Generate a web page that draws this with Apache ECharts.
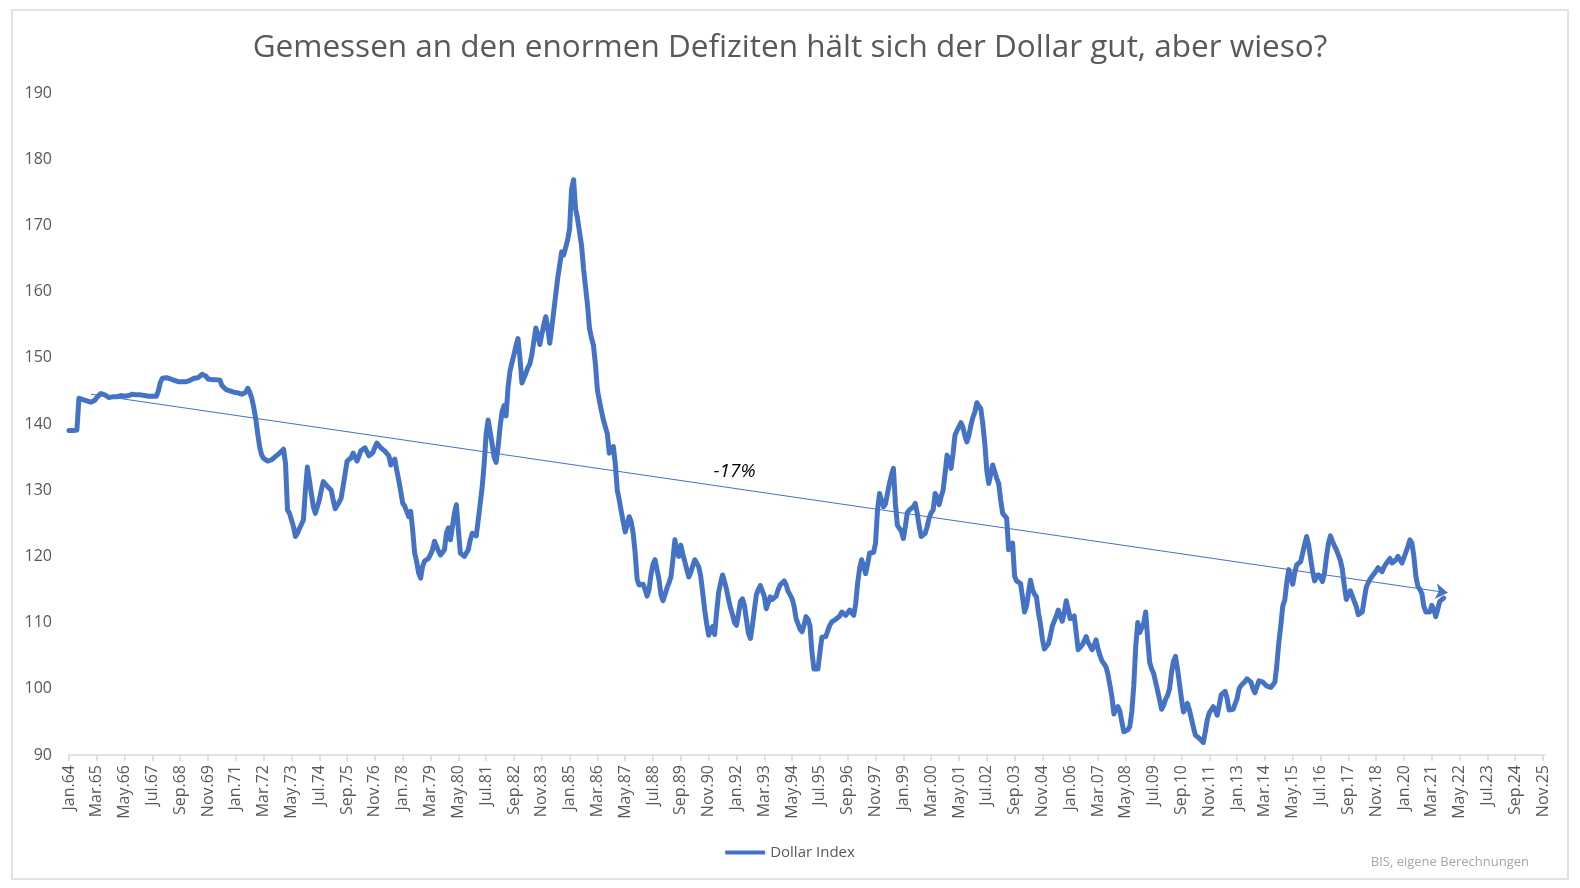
<!DOCTYPE html>
<html>
<head>
<meta charset="utf-8">
<script src="https://cdn.jsdelivr.net/npm/echarts@6/dist/echarts.min.js"></script>
<style>
  html, body { margin: 0; padding: 0; background: #fff; }
  #chart { width: 1580px; height: 888px; }
</style>
</head>
<body>
<div id="chart"></div>
<script>
// Monatswerte Dollar Index (BIS), Jan.64 - Sep.21
const dollar1960s = [
  139, 139, 139, 139, 139.1, 143.9, 143.8, 143.7, 143.6, 143.5, 143.4, 143.3,
  143.3, 143.6, 144.0, 144.3, 144.6, 144.6, 144.4, 144.2, 144.0, 144.0, 144.1, 144.0,
  144.1, 144.2, 144.3, 144.3, 144.2, 144.2, 144.3, 144.4, 144.5, 144.4, 144.4, 144.4,
  144.4, 144.3, 144.3, 144.2, 144.2, 144.2, 144.2, 144.2, 144.2, 145.0, 146.3, 146.9,
  146.9, 147.0, 146.9, 146.8, 146.7, 146.6, 146.5, 146.4, 146.4, 146.4, 146.4, 146.4,
  146.5, 146.6, 146.8, 146.9, 146.9, 147.0, 147.2, 147.5, 147.7, 147.2, 146.8, 146.8
];
const dollar1970s = [
  146.7, 146.7, 146.7, 146.6, 146.6, 145.8, 145.5, 145.2, 145.0, 145.0, 144.9, 144.8,
  144.8, 144.7, 144.6, 144.5, 144.4, 144.8, 145.4, 144.8, 143.9, 142.5, 140.8, 138.5,
  136.5, 135.3, 134.8, 134.5, 134.4, 134.3, 134.6, 134.9, 135.1, 135.3, 135.6, 135.9,
  136.2, 134.0, 127.0, 126.5, 126.6, 124.5, 123.0, 123.5, 124.2, 124.2, 125.5, 130.0,
  133.5, 131.5, 129.5, 127.5, 126.5, 127.5, 128.5, 130.0, 131.3, 131.0, 130.6, 130.3,
  130.0, 128.5, 127.2, 126.9, 128.2, 128.8, 129.0, 132.5, 134.4, 134.6, 134.9, 135.6,
  135.0, 134.4, 135.2, 136.0, 136.2, 136.4, 135.8, 135.2, 134.9, 135.7, 136.5, 137.1,
  136.8, 136.4, 136.1, 135.9, 135.7, 135.2, 133.8, 134.3, 134.7, 133.0, 131.5, 129.8,
  128.0, 127.6, 127.3, 126.0, 126.8, 124.0, 120.5, 119.2, 117.5, 116.7, 118.5, 119.3,
  119.5, 119.7, 120.3, 121.0, 122.3, 122.5, 120.8, 120.2, 120.6, 121.0, 123.5, 124.3
];
const dollar1980s = [
  122.5, 124.5, 126.5, 127.8, 124.0, 120.5, 120.2, 120.0, 120.3, 121.0, 122.5, 123.5,
  123.3, 123.1, 125.5, 128.0, 130.5, 134.0, 138.5, 140.6, 138.8, 137.0, 135.0, 134.2,
  136.5, 139.6, 141.8, 142.8, 141.2, 145.5, 148.0, 149.3, 150.5, 151.8, 152.9, 150.0,
  146.2, 146.5, 147.7, 148.5, 149.1, 150.5, 152.5, 154.5, 153.5, 152.0, 153.5, 155.0,
  156.2, 154.5, 152.2, 154.5, 157.0, 159.5, 162.0, 164.0, 166.0, 165.5, 165.3, 167.8,
  169.5, 175.5, 176.9, 172.5, 171.0, 170.8, 167.0, 163.5, 163.4, 158.0, 154.5, 153.0,
  151.9, 149.0, 145.1, 143.5, 142.0, 140.6, 140.4, 138.5, 135.6, 135.8, 136.6, 134.0,
  130.0, 128.5, 126.8, 125.2, 123.7, 124.8, 126.0, 125.2, 123.5, 120.5, 116.5, 115.7,
  115.8, 115.8, 115.0, 114.0, 115.0, 117.3, 118.8, 119.5, 119.6, 116.5, 114.2, 113.3,
  114.2, 115.2, 116.0, 116.9, 119.5, 122.5, 120.5, 120.0, 121.7, 120.3, 119.2, 118.0
];
const dollar1990s = [
  116.9, 117.6, 118.6, 119.5, 119.0, 118.4, 117.0, 114.5, 111.9, 109.8, 108.1, 108.8,
  109.4, 108.2, 111.5, 114.5, 116.0, 117.2, 116.2, 115.0, 113.5, 112.2, 111.2, 110.0,
  109.6, 111.3, 113.2, 113.6, 112.6, 110.5, 108.4, 107.6, 109.5, 111.9, 114.2, 115.0,
  115.6, 115.6, 114.0, 112.1, 113.0, 113.9, 113.5, 113.2, 114.0, 115.0, 115.7, 116.0,
  116.3, 115.7, 114.7, 114.2, 113.6, 112.5, 110.6, 109.8, 109.0, 108.6, 109.6, 110.9,
  110.5, 109.5, 105.5, 103.0, 102.8, 103.0, 105.5, 107.8, 108.0, 107.9, 108.8, 109.6,
  110.1, 110.3, 110.5, 110.6, 111.0, 111.6, 111.4, 111.1, 111.5, 111.9, 111.5, 111.1,
  112.8, 116.0, 118.2, 119.5, 118.5, 117.4, 118.8, 120.5, 120.7, 120.6, 122.0, 127.0,
  129.5, 128.5, 127.5, 127.9, 129.5, 131.0, 132.3, 133.3, 128.0, 124.7, 124.6, 123.8,
  122.7, 124.5, 126.6, 127.0, 127.0, 127.5, 128.0, 126.5, 124.5, 123.0, 123.2, 123.5
];
const dollar2000s = [
  124.5, 125.8, 126.6, 127.0, 129.5, 129.0, 127.8, 129.0, 130.0, 132.5, 135.3, 134.5,
  133.3, 135.5, 138.3, 139.0, 139.6, 140.2, 139.5, 138.2, 137.3, 138.3, 139.8, 141.0,
  141.8, 143.2, 143.4, 142.3, 140.0, 137.1, 133.0, 131.0, 132.5, 133.8, 132.8, 131.8,
  131.0, 128.5, 126.5, 126.2, 125.8, 121.0, 121.5, 122.0, 117.0, 116.3, 116.1, 115.9,
  113.8, 111.6, 112.5, 114.5, 116.4, 115.0, 114.3, 113.9, 111.5, 109.8, 107.5, 106.0,
  106.3, 106.8, 108.0, 109.5, 109.5, 111.0, 111.9, 111.0, 110.2, 111.5, 113.3, 112.0,
  110.6, 110.8, 111.0, 108.5, 105.9, 106.2, 106.6, 107.2, 107.9, 107.0, 106.5, 105.9,
  106.5, 107.4, 106.0, 105.0, 104.2, 103.8, 103.3, 102.2, 100.5, 98.8, 96.2, 96.8,
  97.3, 96.6, 95.0, 93.5, 93.6, 93.8, 94.3, 96.5, 100.5, 106.5, 110.0, 108.5,
  108.8, 109.9, 111.6, 107.5, 104.0, 103.0, 102.3, 101.0, 99.7, 98.3, 96.9, 97.5
];
const dollar2010s = [
  98.4, 99.0, 100.0, 102.5, 104.2, 104.9, 103.0, 100.8, 98.5, 96.5, 97.0, 97.8,
  96.8, 95.5, 94.2, 93.0, 92.7, 92.5, 92.2, 91.9, 93.5, 95.3, 96.4, 96.8,
  97.3, 96.8, 96.0, 97.5, 99.1, 99.4, 99.6, 98.5, 96.8, 96.8, 96.9, 97.0,
  98.5, 100.0, 100.5, 100.8, 101.1, 101.5, 101.8, 101.0, 100.0, 99.4, 100.3, 101.2,
  101.3, 101.0, 100.8, 100.4, 100.3, 100.2, 100.3, 101.0, 103.5, 107.0, 109.5, 112.5,
  113.4, 116.0, 118.0, 116.8, 115.8, 117.5, 118.7, 119.0, 119.2, 120.5, 121.8, 123.0,
  121.8, 119.7, 117.8, 116.3, 116.8, 117.2, 116.8, 116.2, 117.5, 120.0, 122.0, 123.1,
  122.3, 121.6, 121.0, 120.7, 119.4, 118.0, 115.5, 113.5, 114.2, 114.8, 114.8, 113.2,
  112.4, 111.2, 110.9, 111.6, 113.5, 115.3, 116.0, 116.6, 117.0, 117.4, 117.8, 118.3,
  118.0, 117.7, 118.4, 118.9, 119.3, 119.7, 119.0, 118.8, 119.5, 120.0, 119.5, 119.0
];
const dollar2020s = [
  119.8, 120.0, 121.5, 122.5, 122.0, 120.0, 117.0, 115.5, 115.0, 114.4, 112.5, 111.6,
  111.4, 111.6, 112.6, 112.0, 110.9, 112.0, 113.2, 113.5, 113.7
];

// Trendlinie (-17%) und Beschriftung
const trendStart = [11, 144.5];
const trendEnd = [694, 114.5];
const trendLabel = '-17%';
const trendLabelAt = [335, 132.8];

const monthNames = ['Jan', 'Feb', 'Mar', 'Apr', 'May', 'Jun', 'Jul', 'Aug', 'Sep', 'Oct', 'Nov', 'Dec'];
const firstYear = 1964;
const lastYear = 2025;

const categories = [];
for (let y = firstYear; y <= lastYear; y++) {
  for (let m = 0; m < 12; m++) {
    categories.push(monthNames[m] + '.' + String(y).slice(2));
  }
}

const dollarIndex = [].concat(dollar1960s, dollar1970s, dollar1980s, dollar1990s, dollar2000s, dollar2010s, dollar2020s);

const textColor = '#595959';
const lineColor = '#4472C4';
const font = '"Open Sans", "Noto Sans", sans-serif';

const chart = echarts.init(document.getElementById('chart'));

const option = {
  backgroundColor: '#fff',
  animation: false,
  textStyle: { fontFamily: font },
  title: {
    text: 'Gemessen an den enormen Defiziten hält sich der Dollar gut, aber wieso?',
    left: 'center',
    top: 27,
    textStyle: { color: textColor, fontSize: 31.5, fontWeight: 'normal', fontFamily: font }
  },
  legend: {
    data: ['Dollar Index'],
    left: 'center',
    top: 840,
    icon: 'roundRect',
    itemWidth: 40,
    itemHeight: 4,
    itemGap: 10,
    textStyle: { color: textColor, fontSize: 15, fontFamily: font }
  },
  grid: {
    left: 69,
    right: 35,
    top: 93,
    bottom: 133,
    containLabel: false
  },
  xAxis: {
    type: 'category',
    data: categories,
    boundaryGap: false,
    axisLine: { lineStyle: { color: '#d9d9d9', width: 1.5 } },
    axisTick: {
      interval: 13,
      length: 6,
      lineStyle: { color: '#d9d9d9', width: 1.5 }
    },
    axisLabel: {
      interval: 13,
      rotate: 90,
      color: textColor,
      fontSize: 16,
      margin: 10,
      fontFamily: font
    },
    splitLine: { show: false }
  },
  yAxis: {
    type: 'value',
    min: 90,
    max: 190,
    interval: 10,
    axisLine: { show: false },
    axisTick: { show: false },
    splitLine: { show: false },
    axisLabel: { color: textColor, fontSize: 16, margin: 17, fontFamily: font }
  },
  graphic: [
    {
      type: 'rect',
      shape: { x: 12, y: 10, width: 1556, height: 869 },
      style: { fill: 'none', stroke: '#d9d9d9', lineWidth: 1.5 },
      silent: true
    },
    {
      type: 'text',
      right: 51,
      top: 856,
      style: {
        text: 'BIS, eigene Berechnungen',
        fill: '#a6a6a6',
        fontSize: 13,
        fontFamily: font
      },
      silent: true
    }
  ],
  series: [
    {
      name: 'Dollar Index',
      type: 'line',
      data: dollarIndex,
      showSymbol: false,
      symbol: 'none',
      lineStyle: { color: lineColor, width: 5, cap: 'round', join: 'round' },
      itemStyle: { color: lineColor },
      silent: true,
      markLine: {
        silent: true,
        symbol: ['none', 'arrow'],
        symbolSize: 12,
        lineStyle: { color: lineColor, width: 1, type: 'solid' },
        itemStyle: { color: lineColor },
        label: { show: false },
        data: [[{ coord: trendStart }, { coord: trendEnd }]]
      },
      markPoint: {
        silent: true,
        symbol: 'circle',
        symbolSize: 0,
        label: {
          show: true,
          formatter: trendLabel,
          color: '#000',
          fontSize: 19,
          fontStyle: 'italic',
          fontFamily: font
        },
        data: [{ coord: trendLabelAt }]
      }
    }
  ]
};

chart.setOption(option);
</script>
</body>
</html>
